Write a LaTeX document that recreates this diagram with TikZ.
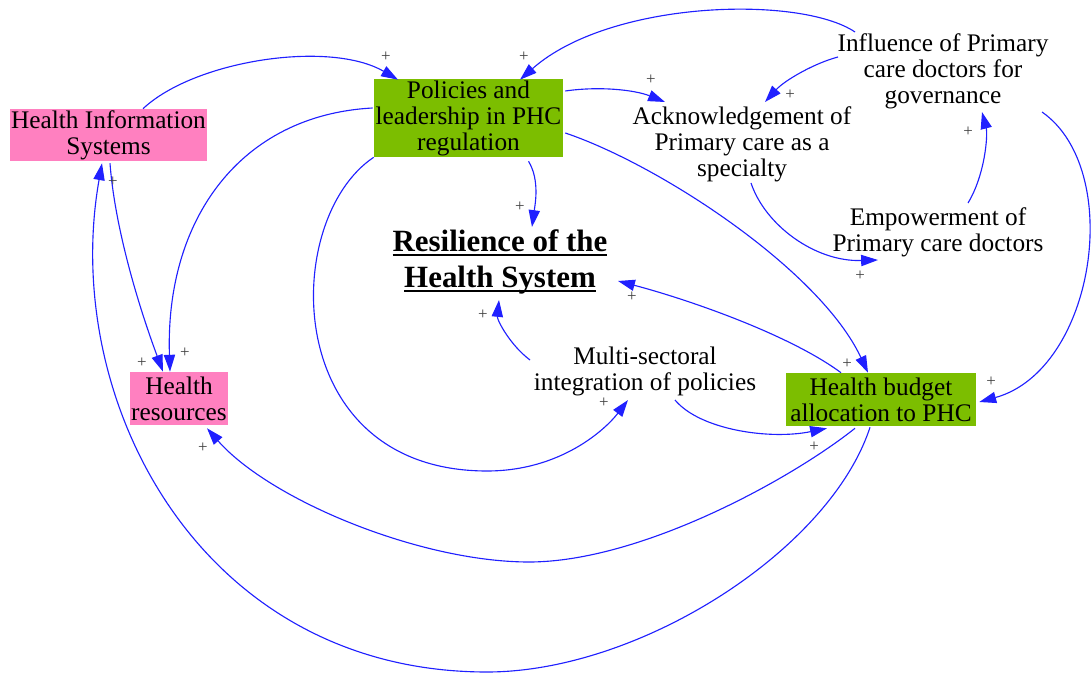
\documentclass[tikz,border=0pt]{standalone}
\usepackage{fontspec}
\setmainfont{Liberation Serif}
\usetikzlibrary{arrows.meta,calc}
\definecolor{hpink}{HTML}{FF80C0}
\definecolor{hgreen}{HTML}{7CBE00}
\definecolor{linkblue}{HTML}{2020FF}
% underline a single line of the title with a heavier rule
\newcommand\ulword[1]{\setbox0=\hbox{#1}\leavevmode\rlap{\rule[-3pt]{\wd0}{1.4pt}}\box0}
\tikzset{
  lbl/.style={font=\fontsize{18}{18.5}\selectfont, align=center, inner sep=0pt, text=black},
  pinkbox/.style={lbl, fill=hpink},
  greenbox/.style={lbl, fill=hgreen},
  titlelbl/.style={font=\fontsize{22}{25.6}\selectfont\bfseries, align=center, inner sep=0pt},
  link/.style={draw=linkblue, line width=0.8pt, -{Triangle[length=12pt,width=8pt]}},
  sign/.style={font=\fontsize{12}{12}\selectfont, text=black!75, inner sep=0pt}
}
\begin{document}
\begin{tikzpicture}[x=0.025cm, y=-0.025cm]
\useasboundingbox (0,0) rectangle (1092,674);

% variables
\node[pinkbox, minimum width=4.925cm, minimum height=1.3cm] (his) at (108.5,135) {Health Information\\Systems};
\node[greenbox, minimum width=4.725cm, minimum height=1.95cm] (pol) at (468.5,118) {Policies and\\leadership in PHC\\regulation};
\node[greenbox, minimum width=4.75cm, minimum height=1.325cm] (hb) at (881,399.5) {Health budget\\allocation to PHC};
\node[pinkbox, minimum width=2.45cm, minimum height=1.325cm] (hr) at (179,398.5) {Health\\resources};
\node[lbl] (ack) at (742,144) {Acknowledgement of\\Primary care as a\\specialty};
\node[lbl] (infl) at (943,71.5) {Influence of Primary\\care doctors for\\governance};
\node[lbl] (emp) at (938,232) {Empowerment of\\Primary care doctors};
\node[titlelbl] (res) at (500,262) {\ulword{Resilience of the}\\\ulword{Health System}};
\node[lbl] (mul) at (645,371) {Multi-sectoral\\integration of policies};

% turning points of the long loops
\coordinate (lowl) at (487,471);
\coordinate (lowp) at (529,562);
\coordinate (lowq) at (487,672);

% causal links
\draw[link] ($(his.north)+(34.5,0)$) .. controls (195,60) and (330,40) .. ($(pol.north)+(-70.5,1)$);
\draw[link] ($(infl)+(-88,-39.5)$) .. controls (800,-5) and (610,0) .. ($(pol.north)+(51.5,1)$);
\draw[link] ($(pol.east)+(2,-27)$) .. controls (600,86) and (635,90) .. ($(ack)+(-77,-42)$);
\draw[link] ($(infl)+(-105,-14.5)$) .. controls (815,63) and (785,80) .. ($(ack)+(23,-42)$);
\draw[link] ($(ack)+(9,39)$) .. controls (765,225) and (815,262) .. ($(emp)+(-60,28)$);
\draw[link] ($(emp)+(30,-29)$) .. controls (985,175) and (988,135) .. ($(infl)+(39,40.5)$);
\draw[link] ($(infl)+(99,40.5)$) .. controls (1125,170) and (1095,370) .. ($(hb.east)+(3,2.5)$);
\draw[link] ($(pol.east)+(2,15)$) .. controls (660,165) and (820,270) .. ($(hb.north)+(-13,0)$);
\draw[link] ($(pol.south)+(60,4)$) .. controls (540,180) and (535,205) .. ($(res)+(32,-35)$);
\draw[link] ($(hb.north)+(-40,0)$) .. controls (790,335) and (690,300) .. ($(res)+(118,19)$);
\draw[link] ($(mul)+(-115,-11)$) .. controls (510,345) and (497,320) .. ($(res)+(-1,38)$);
\draw[link] (pol.south west) .. controls (280,220) and (280,471) .. (lowl)
            .. controls (560,471) and (605,430) .. ($(mul)+(-17,29)$);
\draw[link] ($(mul)+(30,29)$) .. controls (700,430) and (770,440) .. ($(hb.south)+(-54,2)$);
\draw[link] ($(pol.west)+(-1,-10)$) .. controls (240,115) and (165,220) .. ($(hr.north)+(-9,0)$);
\draw[link] ($(his.south)+(1.5,2)$) .. controls (115,230) and (140,310) .. ($(hr.north)+(-16,0)$);
\draw[link] ($(hb.south)+(-26,2)$) .. controls (790,480) and (640,562) .. (lowp)
            .. controls (420,562) and (270,500) .. ($(hr.south)+(28,3)$);
\draw[link] ($(hb.south)+(-11,1)$) .. controls (830,550) and (640,672) .. (lowq)
            .. controls (200,672) and (60,400) .. ($(his.south)+(-6.5,2)$);

% polarity signs
\node[sign] (s1) at (386,57) {+};
\node[sign] (s2) at (524,57) {+};
\node[sign] (s3) at (651,80) {+};
\node[sign] (s4) at (790,95) {+};
\node[sign] (s5) at (860,276) {+};
\node[sign] (s6) at (968,132) {+};
\node[sign] (s7) at (991,382) {+};
\node[sign] (s8) at (847,364) {+};
\node[sign] (s9) at (520,207) {+};
\node[sign] (s10) at (632,297) {+};
\node[sign] (s11) at (483,315) {+};
\node[sign] (s12) at (604,403) {+};
\node[sign] (s13) at (814,447) {+};
\node[sign] (s14) at (185,353) {+};
\node[sign] (s15) at (142,363) {+};
\node[sign] (s16) at (203,448) {+};
\node[sign] (s17) at (113,182) {+};
\end{tikzpicture}
\end{document}
